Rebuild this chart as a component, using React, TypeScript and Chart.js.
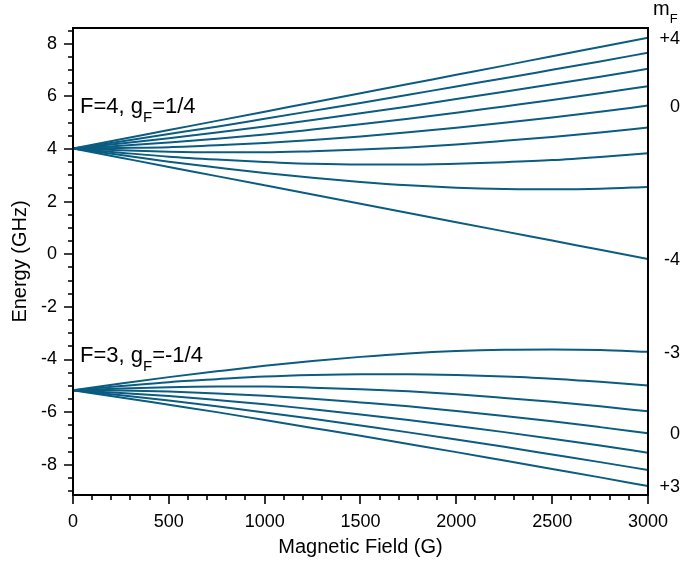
import React, { useEffect, useRef } from 'react';
import { Chart, registerables } from 'chart.js';
Chart.register(...registerables);

// Magnetic field (G)
const fieldG = [0, 250, 500, 750, 1000, 1250, 1500, 1750, 2000, 2250, 2500, 2750, 3000];

// F=4 levels (GHz), mF = +4 ... -4
const f4_p4 = [4.02, 4.37, 4.72, 5.07, 5.42, 5.77, 6.12, 6.47, 6.82, 7.17, 7.53, 7.88, 8.23];
const f4_p3 = [4.02, 4.29, 4.57, 4.85, 5.15, 5.45, 5.75, 6.06, 6.38, 6.69, 7.01, 7.33, 7.66];
const f4_p2 = [4.02, 4.21, 4.41, 4.63, 4.86, 5.10, 5.36, 5.62, 5.90, 6.18, 6.46, 6.75, 7.05];
const f4_p1 = [4.02, 4.12, 4.25, 4.39, 4.55, 4.74, 4.94, 5.15, 5.38, 5.62, 5.86, 6.12, 6.39];
const f4_0 = [4.02, 4.04, 4.07, 4.14, 4.23, 4.34, 4.48, 4.64, 4.81, 5.00, 5.20, 5.42, 5.65];
const f4_m1 = [4.02, 3.95, 3.90, 3.88, 3.88, 3.92, 3.98, 4.06, 4.17, 4.31, 4.46, 4.63, 4.82];
const f4_m2 = [4.02, 3.86, 3.71, 3.60, 3.51, 3.44, 3.41, 3.41, 3.44, 3.50, 3.58, 3.70, 3.84];
const f4_m3 = [4.02, 3.77, 3.52, 3.30, 3.09, 2.91, 2.75, 2.62, 2.53, 2.48, 2.47, 2.49, 2.56];
const f4_m4 = [4.02, 3.67, 3.32, 2.97, 2.62, 2.27, 1.92, 1.57, 1.22, 0.87, 0.52, 0.17, -0.18];

// F=3 levels (GHz), mF = -3 ... +3
const f3_m3 = [-5.17, -4.91, -4.67, -4.45, -4.24, -4.06, -3.90, -3.77, -3.68, -3.63, -3.62, -3.64, -3.71];
const f3_m2 = [-5.17, -5.01, -4.86, -4.75, -4.65, -4.59, -4.56, -4.56, -4.59, -4.65, -4.73, -4.85, -4.99];
const f3_m1 = [-5.17, -5.10, -5.05, -5.03, -5.03, -5.07, -5.13, -5.21, -5.32, -5.46, -5.61, -5.78, -5.97];
const f3_0 = [-5.17, -5.18, -5.22, -5.29, -5.38, -5.49, -5.63, -5.78, -5.96, -6.15, -6.35, -6.57, -6.80];
const f3_p1 = [-5.17, -5.27, -5.39, -5.54, -5.70, -5.89, -6.09, -6.30, -6.53, -6.76, -7.01, -7.27, -7.54];
const f3_p2 = [-5.17, -5.36, -5.56, -5.78, -6.01, -6.25, -6.51, -6.77, -7.04, -7.32, -7.61, -7.90, -8.20];
const f3_p3 = [-5.17, -5.44, -5.72, -6.00, -6.30, -6.60, -6.90, -7.21, -7.52, -7.84, -8.16, -8.48, -8.81];

const allSeries = [f4_p4, f4_p3, f4_p2, f4_p1, f4_0, f4_m1, f4_m2, f4_m3, f4_m4,
  f3_m3, f3_m2, f3_m1, f3_0, f3_p1, f3_p2, f3_p3];

const xTicks = [0, 500, 1000, 1500, 2000, 2500, 3000];
const yTicks = [-8, -6, -4, -2, 0, 2, 4, 6, 8];

// right-hand mF labels and the series they mark
const mfLabels = ['+4', '0', '-4', '-3', '0', '+3'];
const mfSeries = [f4_p4, f4_0, f4_m4, f3_m3, f3_0, f3_p3];

const LINE = '#0a5c80';
const FONT = '"Liberation Sans", Arial, sans-serif';

function drawSubText(ctx: CanvasRenderingContext2D, x: number, base: number, a: string, sub: string, b: string, size: number, subSize: number, drop: number) {
  ctx.font = `${size}px ${FONT}`;
  ctx.fillText(a, x, base);
  let cx = x + ctx.measureText(a).width;
  ctx.font = `${subSize}px ${FONT}`;
  ctx.fillText(sub, cx, base + drop);
  cx += ctx.measureText(sub).width;
  ctx.font = `${size}px ${FONT}`;
  ctx.fillText(b, cx, base);
}

const framePlugin = {
  id: 'frame',
  afterDraw(chart: any) {
    const { ctx, chartArea: a, scales } = chart;
    const x = scales.x, y = scales.y;
    ctx.save();
    ctx.strokeStyle = '#000';
    ctx.lineWidth = 2;
    ctx.strokeRect(a.left, a.top, a.right - a.left, a.bottom - a.top);
    ctx.lineWidth = 1.6;
    ctx.beginPath();
    for (let v = 0; v <= 3000; v += 100) {
      const px = Math.round(x.getPixelForValue(v));
      const major = v % 500 === 0;
      ctx.moveTo(px, a.bottom);
      ctx.lineTo(px, a.bottom + (major ? 9 : 5));
    }
    for (let k = -20; k <= 20; k++) {
      const v = k * 0.5;
      if (v < y.min || v > y.max) continue;
      const py = Math.round(y.getPixelForValue(v));
      const major = k % 4 === 0;
      ctx.moveTo(a.left - (major ? 9 : 5), py);
      ctx.lineTo(a.left, py);
    }
    ctx.stroke();

    ctx.fillStyle = '#000';
    ctx.textBaseline = 'alphabetic';
    ctx.textAlign = 'left';
    drawSubText(ctx, 80, 113, 'F=4, g', 'F', '=1/4', 22, 15, 9);
    drawSubText(ctx, 80, 362, 'F=3, g', 'F', '=-1/4', 22, 15, 9);
    drawSubText(ctx, 653, 15, 'm', 'F', '', 20, 13, 8);

    ctx.font = `18px ${FONT}`;
    ctx.textAlign = 'right';
    ctx.textBaseline = 'middle';
    mfLabels.forEach((lab, i) => {
      const s = mfSeries[i];
      ctx.fillText(lab, 680, y.getPixelForValue(s[s.length - 1]) + 1);
    });
    ctx.restore();
  },
};

export default function App() {
  const ref = useRef<HTMLCanvasElement>(null);
  useEffect(() => {
    if (!ref.current) return;
    Chart.defaults.font.family = FONT;
    const chart = new Chart(ref.current, {
      type: 'line',
      data: {
        datasets: allSeries.map((s) => ({
          data: s.map((v, i) => ({ x: fieldG[i], y: v })),
          borderColor: LINE,
          borderWidth: 2,
          pointRadius: 0,
          fill: false,
          cubicInterpolationMode: 'monotone' as const,
        })),
      },
      options: {
        animation: false,
        responsive: false,
        layout: { padding: { left: 0, right: 27, top: 28, bottom: 0 } },
        plugins: { legend: { display: false }, tooltip: { enabled: false } },
        scales: {
          x: {
            type: 'linear',
            min: 0,
            max: 3000,
            afterBuildTicks: (s: any) => { s.ticks = xTicks.map((v) => ({ value: v })); },
            afterFit: (s: any) => { s.height = 74; },
            grid: { display: false, drawTicks: false },
            border: { display: false },
            ticks: { color: '#000', font: { size: 18 }, padding: 16, maxRotation: 0, callback: (v: any) => String(v) },
            title: { display: true, text: 'Magnetic Field (G)', color: '#000', font: { size: 20 }, padding: { top: 0, bottom: 10 } },
          },
          y: {
            type: 'linear',
            min: -9.15,
            max: 8.6,
            afterBuildTicks: (s: any) => { s.ticks = yTicks.map((v) => ({ value: v })); },
            afterFit: (s: any) => { s.width = 73; },
            grid: { display: false, drawTicks: false },
            border: { display: false },
            ticks: { color: '#000', font: { size: 18 }, padding: 16, callback: (v: any) => String(v) },
            title: { display: true, text: 'Energy (GHz)', color: '#000', font: { size: 20 }, padding: { top: 8, bottom: 0 } },
          },
        },
      },
      plugins: [framePlugin],
    });
    return () => chart.destroy();
  }, []);
  return (
    <div style={{ position: 'absolute', left: 0, top: 0, width: 684, height: 569, background: '#fff' }}>
      <canvas ref={ref} width={684} height={569} style={{ display: 'block' }} />
    </div>
  );
}
